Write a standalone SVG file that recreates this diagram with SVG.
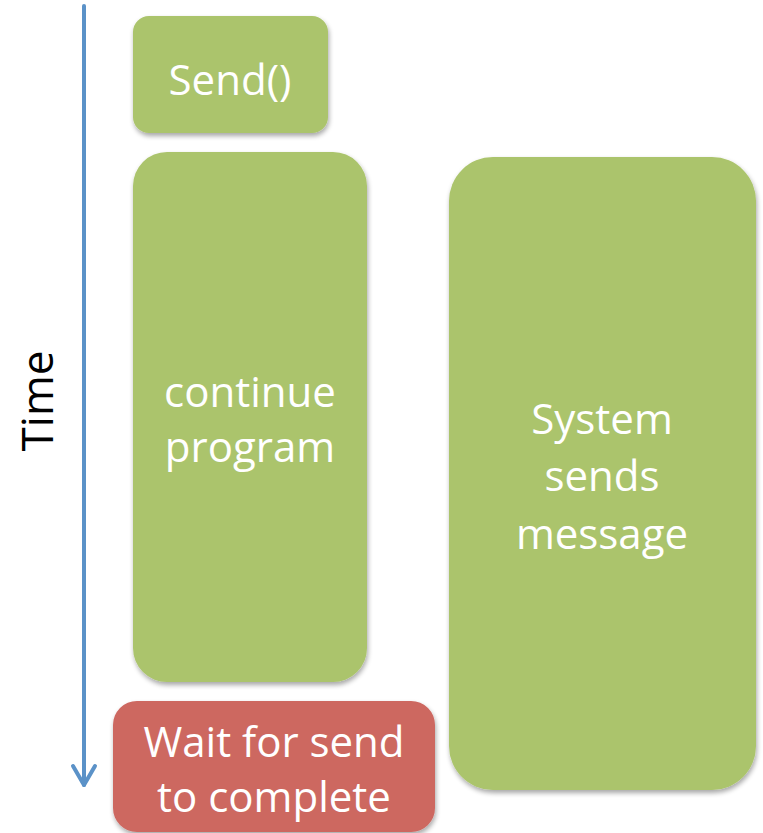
<svg xmlns="http://www.w3.org/2000/svg" width="763" height="833" viewBox="0 0 763 833">
<defs>
<filter id="sh" x="-10%" y="-10%" width="130%" height="130%">
<feGaussianBlur in="SourceAlpha" stdDeviation="2.5"/>
<feOffset dx="1" dy="3" result="b"/>
<feComponentTransfer><feFuncA type="linear" slope="0.35"/></feComponentTransfer>
<feMerge><feMergeNode/><feMergeNode in="SourceGraphic"/></feMerge>
</filter>
</defs>
<style>
.g{fill:#abc46c;filter:url(#sh)}
.r{fill:#cd6760;filter:url(#sh)}
.t{font-family:"Open Sans","Liberation Sans",sans-serif;font-size:42px;fill:#fff;text-anchor:middle}
.k{font-family:"Open Sans","Liberation Sans",sans-serif;font-size:44px;fill:#000;text-anchor:middle}
.ax{stroke:#5b92c8;stroke-width:4;fill:none;stroke-linecap:round;stroke-linejoin:round}
</style>
<g id="connectors">
<line class="ax" x1="84" y1="6" x2="84" y2="785"/>
<polyline class="ax" points="73,766 84,785 95,766"/>
</g>
<g id="time-label"><text class="k" transform="translate(38,401) rotate(-90)" y="15">Time</text></g>
<g id="send"><rect class="g" x="133" y="16" width="195" height="117" rx="16"/><text class="t" x="230" y="95">Send()</text></g>
<g id="continue"><rect class="g" x="133" y="152" width="234" height="530" rx="34"/><text class="t" x="250" y="407">continue</text><text class="t" x="250" y="462">program</text></g>
<g id="system"><rect class="g" x="449" y="157" width="307" height="633" rx="44"/><text class="t" x="602" y="434">System</text><text class="t" x="602" y="491">sends</text><text class="t" x="602" y="549">message</text></g>
<g id="wait"><rect class="r" x="113" y="701" width="322" height="131" rx="24"/><text class="t" x="274" y="757">Wait for send</text><text class="t" x="274" y="812">to complete</text></g>
</svg>
